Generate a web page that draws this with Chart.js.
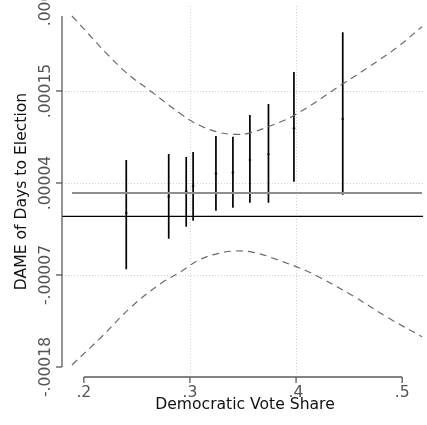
<!DOCTYPE html>
<html>
<head>
<meta charset="utf-8">
<script src="https://cdn.jsdelivr.net/npm/chart.js@4"></script>
<style>
  html, body { margin: 0; padding: 0; background: #fff; }
  #wrap { width: 427px; height: 425px; }
</style>
</head>
<body>
<div id="wrap"><canvas id="dameChart" width="427" height="425"></canvas></div>
<script>
// --- Data ---
const xTicks = [0.2, 0.3, 0.4, 0.5];
const xTickLabels = ['.2', '.3', '.4', '.5'];
const yTicks = [-0.00018, -0.00007, 0.00004, 0.00015, 0.00026];
const yTickLabels = ['-.00018', '-.00007', '.00004', '.00015', '.00026'];
const xGrid = [0.3, 0.4];
const yGrid = [-0.00007, 0.00004, 0.00015];

// binned estimates with intervals
const voteShare = [0.240, 0.280, 0.2965, 0.303, 0.3245, 0.3405, 0.3565, 0.374, 0.398, 0.444];
const dame      = [0.0000041, 0.0000236, 0.0000301, 0.0000364, 0.0000511, 0.0000523, 0.0000675, 0.0000743, 0.0001054, 0.0001165];
const ciLow     = [-0.0000632, -0.0000266, -0.0000122, -0.0000051, 0.0000069, 0.0000105, 0.0000164, 0.0000164, 0.0000416, 0.0000260];
const ciHigh    = [0.0000675, 0.0000747, 0.0000711, 0.0000771, 0.0000962, 0.0000954, 0.0001213, 0.0001345, 0.0001727, 0.0002202];

// average effect and its band
const meanX = [0.1888, 0.5187];
const meanEffect = [0.000028, 0.000028];
const upperX = [0.1888, 0.2355, 0.2636, 0.2928, 0.3084, 0.3271, 0.3411, 0.3551, 0.3738, 0.3988, 0.4439, 0.4689, 0.4953, 0.5187];
const upperY = [0.0002397, 0.0001771, 0.0001492, 0.0001213, 0.0001093, 0.0001006, 0.0000982, 0.0000994, 0.0001073, 0.0001213, 0.0001584, 0.0001791, 0.0002023, 0.0002269];
const lowerX = [0.1888, 0.2168, 0.2449, 0.2729, 0.2913, 0.3084, 0.3271, 0.3442, 0.3614, 0.3832, 0.4096, 0.4236, 0.4549, 0.4860, 0.5187];
const lowerY = [-0.0001776, -0.0001438, -0.0001079, -0.0000799, -0.0000661, -0.0000521, -0.0000441, -0.0000413, -0.0000433, -0.0000521, -0.0000650, -0.0000738, -0.0000960, -0.0001206, -0.0001438];

const xTitle = 'Democratic Vote Share';
const yTitle = 'DAME of Days to Election';

const FONT = '"DejaVu Sans", Verdana, sans-serif';
const FONT_SIZE = 15.6;

// --- helpers ---
const zip = (xs, ys) => xs.map((x, i) => ({ x: x, y: ys[i] }));

function errorBarPoints() {
    const pts = [];
    voteShare.forEach((x, i) => {
        pts.push({ x: x, y: ciLow[i] });
        pts.push({ x: x, y: ciHigh[i] });
        pts.push({ x: x, y: null });
    });
    return pts;
}

// grid lines go under the data
const gridPlugin = {
    id: 'stataGrid',
    beforeDatasetsDraw(chart) {
        const { ctx, chartArea, scales } = chart;
        ctx.save();
        ctx.strokeStyle = '#cfcfcf';
        ctx.lineWidth = 1;
        ctx.setLineDash([1, 2]);
        yGrid.forEach(v => {
            const y = Math.round(scales.y.getPixelForValue(v)) + 0.5;
            ctx.beginPath();
            ctx.moveTo(chartArea.left, y);
            ctx.lineTo(chartArea.right, y);
            ctx.stroke();
        });
        xGrid.forEach(v => {
            const x = Math.round(scales.x.getPixelForValue(v)) + 0.5;
            ctx.beginPath();
            ctx.moveTo(x, chartArea.top);
            ctx.lineTo(x, chartArea.bottom - 2);
            ctx.stroke();
        });
        ctx.restore();
    }
};

// axes, ticks and labels drawn Stata-style
const axesPlugin = {
    id: 'stataAxes',
    afterDraw(chart) {
        const { ctx, chartArea, scales } = chart;
        const xs = scales.x, ys = scales.y;
        ctx.save();
        ctx.strokeStyle = '#5a5a5a';
        ctx.lineWidth = 1.3;
        ctx.setLineDash([]);

        // y axis
        const ax = chartArea.left;
        const yBottom = ys.getPixelForValue(yTicks[0]);
        ctx.beginPath();
        ctx.moveTo(ax, chartArea.top + 10);
        ctx.lineTo(ax, yBottom);
        ctx.stroke();
        yTicks.forEach(v => {
            const y = ys.getPixelForValue(v);
            if (y < chartArea.top) return;
            ctx.beginPath();
            ctx.moveTo(ax - 6, y);
            ctx.lineTo(ax, y);
            ctx.stroke();
        });

        // x axis
        const ay = chartArea.bottom;
        const x0 = xs.getPixelForValue(xTicks[0]);
        const x1 = xs.getPixelForValue(xTicks[xTicks.length - 1]);
        ctx.beginPath();
        ctx.moveTo(x0, ay);
        ctx.lineTo(x1, ay);
        ctx.stroke();
        xTicks.forEach(v => {
            const x = xs.getPixelForValue(v);
            ctx.beginPath();
            ctx.moveTo(x, ay);
            ctx.lineTo(x, ay + 6);
            ctx.stroke();
        });

        // tick labels
        ctx.fillStyle = '#555555';
        ctx.font = FONT_SIZE + 'px ' + FONT;
        ctx.textAlign = 'center';
        ctx.textBaseline = 'middle';
        xTicks.forEach((v, i) => {
            ctx.fillText(xTickLabels[i], xs.getPixelForValue(v), ay + 16);
        });
        yTicks.forEach((v, i) => {
            const y = ys.getPixelForValue(v);
            ctx.save();
            ctx.translate(ax - 16, y);
            ctx.rotate(-Math.PI / 2);
            ctx.fillText(yTickLabels[i], 0, 0);
            ctx.restore();
        });

        // titles
        ctx.fillStyle = '#111111';
        ctx.fillText(xTitle, (x0 + x1) / 2 + 2, ay + 28);
        ctx.save();
        ctx.translate(22, 191.5);
        ctx.rotate(-Math.PI / 2);
        ctx.fillText(yTitle, 0, 0);
        ctx.restore();
        ctx.restore();
    }
};

new Chart(document.getElementById('dameChart'), {
    type: 'line',
    data: {
        datasets: [
            { label: 'zero', data: [{ x: 0.179439, y: 0 }, { x: 0.519626, y: 0 }], borderColor: '#000', borderWidth: 1.2, pointRadius: 0 },
            { label: 'mean', data: zip(meanX, meanEffect), borderColor: '#8e8e8e', borderWidth: 2, pointRadius: 0 },
            { label: 'upper', data: zip(upperX, upperY), borderColor: '#6a6a6a', borderWidth: 1.2, borderDash: [7, 5], pointRadius: 0, tension: 0.4 },
            { label: 'lower', data: zip(lowerX, lowerY), borderColor: '#6a6a6a', borderWidth: 1.2, borderDash: [7, 5], pointRadius: 0, tension: 0.4 },
            { label: 'ci', data: errorBarPoints(), borderColor: '#000', borderWidth: 1.7, pointRadius: 0, spanGaps: false },
            { label: 'dame', data: zip(voteShare, dame), showLine: false, pointRadius: 1.4, pointBackgroundColor: '#666', pointBorderWidth: 0 }
        ]
    },
    options: {
        responsive: false,
        animation: false,
        layout: { padding: { left: 62, top: 6, right: 1, bottom: 48 } },
        plugins: { legend: { display: false }, tooltip: { enabled: false } },
        scales: {
            x: { type: 'linear', display: false, min: 0.179439, max: 0.519626 },
            y: { type: 'linear', display: false, min: -0.00019196, max: 0.00025163 }
        }
    },
    plugins: [gridPlugin, axesPlugin]
});
</script>
</body>
</html>
